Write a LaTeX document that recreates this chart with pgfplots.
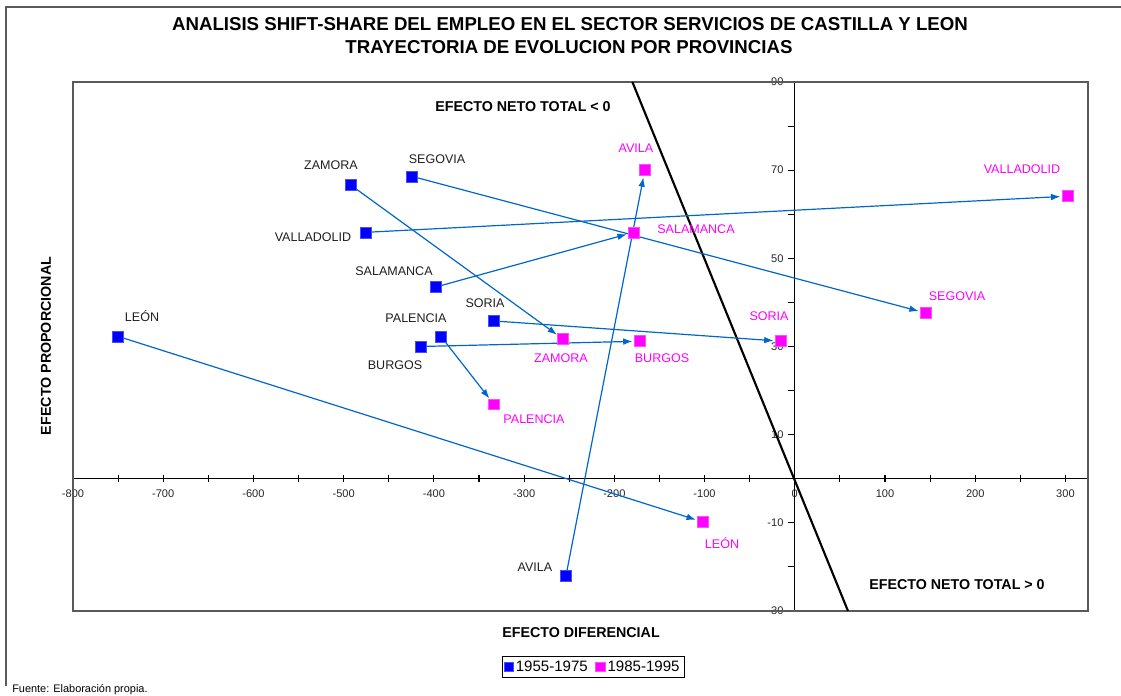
\documentclass[border=0pt]{standalone}
\usepackage{fontspec}
\setmainfont{Liberation Sans}
\usepackage{pgfplots}
\pgfplotsset{compat=1.18}
\usetikzlibrary{arrows.meta}
\definecolor{arrowblue}{RGB}{0,102,204}
\definecolor{ptblue}{RGB}{0,0,255}
\definecolor{ptpink}{RGB}{255,0,255}
\definecolor{framegray}{RGB}{90,90,90}

\pgfplotstableread{
x y
-750.1 32.3
-492.0 66.6
-424.4 68.6
-475.3 55.9
-397.8 43.5
-333.5 35.8
-392.2 32.3
-414.4 30.0
-253.7 -22.1
}\early
\pgfplotstableread{
x y
-101.9 -9.8
-257.0 31.7
145.2 37.6
302.5 64.1
-178.4 55.9
-15.5 31.2
-333.5 16.9
-171.7 31.2
-166.2 70.0
}\late

\begin{document}
\begin{tikzpicture}
\begin{scope}[x=0.75pt,y=-0.75pt]
\useasboundingbox (0,0) rectangle (1121,696);
\draw[line width=1.1pt, framegray] (6,686) -- (6,7) -- (1140,7);
\end{scope}
\begin{axis}[
  at={(54.75pt,-458.25pt)}, anchor=south west,
  scale only axis, width=761.25pt, height=396.75pt,
  xmin=-800, xmax=325, ymin=-30, ymax=90,
  axis lines=middle, axis line style={-, black, line width=0.8pt},
  hide obscured x ticks=false,
  xtick={-800,-700,...,300}, minor xtick={-750,-650,...,250},
  ytick={-30,-10,...,90}, minor ytick={-20,0,...,80},
  xtick align=center, ytick align=outside,
  major tick length=5pt, minor tick length=5pt,
  tick style={black, line width=0.8pt},
  /pgf/number format/assume math mode=true,
  tick label style={font=\fontsize{8.3}{10}\selectfont, text=black!85},
  xticklabel style={yshift=-2pt},
  clip=false,
  legend style={at={(0.5125,-0.1065)}, anchor=center, draw=black, line width=0.6pt,
    font=\fontsize{11.3}{13}\selectfont, inner sep=1.2pt,
    /tikz/every even column/.append style={column sep=4pt}},
  legend columns=2,
  legend image code/.code={\draw[#1, mark size=3.4pt] plot coordinates {(0.1cm,0cm)};},
]
\draw[framegray, line width=0.9pt] (rel axis cs:0,0) rectangle (rel axis cs:1,1);
% neto total = 0 line
\addplot[black, line width=1.6pt, forget plot] coordinates {(-180,90) (59,-30)};
% arrows
\pgfplotsinvokeforeach{0,...,8}{
  \pgfplotstablegetelem{#1}{x}\of\early \let\xa\pgfplotsretval
  \pgfplotstablegetelem{#1}{y}\of\early \let\ya\pgfplotsretval
  \pgfplotstablegetelem{#1}{x}\of\late \let\xb\pgfplotsretval
  \pgfplotstablegetelem{#1}{y}\of\late \let\yb\pgfplotsretval
  \edef\temp{\noexpand\addplot[arrowblue, line width=0.9pt, -{Latex[length=7pt,width=5pt]}, shorten >=5.5pt, forget plot] coordinates {(\xa,\ya) (\xb,\yb)};}
  \temp
}
\addplot[only marks, mark=square*, mark size=4.1pt, mark options={fill=ptblue, draw=ptblue!70}] table {\early};
\addlegendentry{1955-1975}
\addplot[only marks, mark=square*, mark size=4.1pt, mark options={fill=ptpink, draw=ptpink!70}] table {\late};
\addlegendentry{1985-1995}
\end{axis}
\begin{scope}[x=0.75pt,y=-0.75pt]
% titles
\node[font=\bfseries\fontsize{14}{17}\selectfont] at (570,24) {ANALISIS SHIFT-SHARE DEL EMPLEO EN EL SECTOR SERVICIOS DE CASTILLA Y LEON};
\node[font=\bfseries\fontsize{14}{17}\selectfont] at (569,47) {TRAYECTORIA DE EVOLUCION POR PROVINCIAS};
\node[font=\bfseries\fontsize{10.7}{12}\selectfont] at (581,633) {EFECTO DIFERENCIAL};
\node[font=\bfseries\fontsize{10.7}{12}\selectfont, rotate=90] at (46,346) {EFECTO PROPORCIONAL};
\node[font=\bfseries\fontsize{10.7}{12}\selectfont] at (523,107) {EFECTO NETO TOTAL < 0};
\node[font=\bfseries\fontsize{10.7}{12}\selectfont] at (957,585) {EFECTO NETO TOTAL > 0};
\node[font=\fontsize{8.2}{10}\selectfont, anchor=west, inner sep=0pt] at (12,690) {Fuente: Elaboración propia.};
% blue labels
\begin{scope}[every node/.style={font=\fontsize{9.4}{11}\selectfont, text=black!88, inner sep=0pt}]
\node at (142,316) {LEÓN};
\node at (331,165) {ZAMORA};
\node at (437,159) {SEGOVIA};
\node at (313,237) {VALLADOLID};
\node at (394,271) {SALAMANCA};
\node at (485,303) {SORIA};
\node at (416,318) {PALENCIA};
\node at (395,365) {BURGOS};
\node at (535,567) {AVILA};
\end{scope}
\begin{scope}[every node/.style={font=\fontsize{9.4}{11}\selectfont, text=ptpink, inner sep=0pt}]
\node at (636,148) {AVILA};
\node at (1022,169) {VALLADOLID};
\node at (696,229) {SALAMANCA};
\node at (957,296) {SEGOVIA};
\node at (769,316) {SORIA};
\node at (561,358) {ZAMORA};
\node at (662,358) {BURGOS};
\node at (534,419) {PALENCIA};
\node at (722,543) {LEÓN};
\end{scope}
\end{scope}
\end{tikzpicture}
\end{document}
